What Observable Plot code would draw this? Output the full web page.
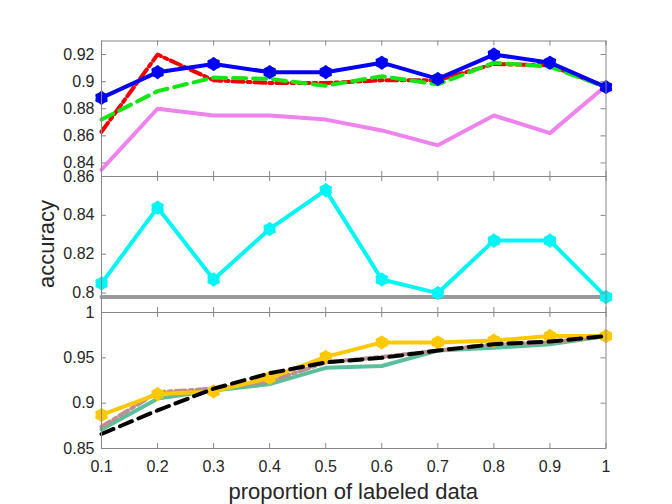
<!DOCTYPE html>
<html><head><meta charset="utf-8">
<script src="https://cdn.jsdelivr.net/npm/d3@7"></script>
<script src="https://cdn.jsdelivr.net/npm/@observablehq/plot@0.6"></script>
<style>
body{margin:0;background:#fff}
#chart{position:relative;width:672px;height:504px;overflow:hidden;background:#fff;font-family:"Liberation Sans",Arial,Helvetica,sans-serif}
#chart svg{position:absolute;left:0;top:0;overflow:visible}
.lab{position:absolute;color:#262626;font-size:22px;white-space:nowrap;line-height:1}
</style></head><body>
<div id="chart"></div>
<script>
// ---- data ----
const proportion = [0.1, 0.2, 0.3, 0.4, 0.5, 0.6, 0.7, 0.8, 0.9, 1.0];
const xTicks = [0.1, 0.2, 0.3, 0.4, 0.5, 0.6, 0.7, 0.8, 0.9, 1.0];

// top panel
const blueAcc   = [0.888, 0.907, 0.913, 0.907, 0.907, 0.914, 0.902, 0.920, 0.914, 0.896];
const redAcc    = [0.863, 0.920, 0.901, 0.899, 0.899, 0.901, 0.901, 0.913, 0.912, 0.896];
const greenAcc  = [0.872, 0.893, 0.903, 0.902, 0.897, 0.904, 0.898, 0.914, 0.911, 0.896];
const violetAcc = [0.835, 0.880, 0.875, 0.875, 0.872, 0.864, 0.853, 0.875, 0.862, 0.897];
const topTicks = [0.84, 0.86, 0.88, 0.9, 0.92];

// middle panel
const cyanAcc = [0.805, 0.844, 0.807, 0.833, 0.853, 0.807, 0.800, 0.827, 0.827, 0.798];
const grayAcc = [0.798, 0.798, 0.798, 0.798, 0.798, 0.798, 0.798, 0.798, 0.798, 0.798];
const midTicks = [0.8, 0.82, 0.84, 0.86];

// bottom panel
const yellowAcc = [0.887, 0.910, 0.913, 0.928, 0.951, 0.967, 0.967, 0.969, 0.974, 0.974];
const tealAcc   = [0.871, 0.905, 0.914, 0.921, 0.939, 0.941, 0.958, 0.961, 0.965, 0.974];
const blackAcc  = [0.866, 0.892, 0.916, 0.933, 0.945, 0.950, 0.958, 0.965, 0.968, 0.974];
const rosyAcc   = [0.874, 0.912, 0.916, 0.924, 0.945, 0.951, 0.958, 0.965, 0.967, 0.974];
const botTicks = [0.85, 0.9, 0.95, 1];

// ---- layout ----
const W = 672, H = 504, L = 101, R = 605.5;
const frameColor = "#868686", textColor = "#262626";
const fmt = d => String(+(+d).toFixed(3));
const rows = vals => proportion.map((x, i) => ({x, y: vals[i]}));

const hexagram = {
  draw(ctx, size) {
    const r = Math.sqrt(size / Math.PI), ri = r * 0.8;
    for (let i = 0; i < 12; i++) {
      const a = i * Math.PI / 6 - Math.PI / 2, rr = i % 2 ? ri : r;
      const px = rr * Math.cos(a), py = rr * Math.sin(a);
      i ? ctx.lineTo(px, py) : ctx.moveTo(px, py);
    }
    ctx.closePath();
  }
};

function lineMarks(vals, color, dash, withMarkers) {
  const data = rows(vals);
  const m = [Plot.line(data, {x: "x", y: "y", stroke: color, strokeWidth: 4, strokeDasharray: dash, strokeLinejoin: "round", clip: false})];
  if (withMarkers) m.push(Plot.dot(data, {x: "x", y: "y", symbol: hexagram, r: 6, fill: color, stroke: color, strokeWidth: 2, strokeLinejoin: "round"}));
  return m;
}

function panel({top, bottom, domain, yTicks, series, showX}) {
  const ph = bottom - top, pw = R - L;
  const marks = [
    ...series,
    Plot.frame({stroke: frameColor, strokeWidth: 1}),
    Plot.tickX(xTicks, {x: d => d, stroke: frameColor, insetTop: ph - 5}),
    Plot.tickX(xTicks, {x: d => d, stroke: frameColor, insetBottom: ph - 5}),
    Plot.tickY(yTicks, {y: d => d, stroke: frameColor, insetRight: pw - 5}),
    Plot.tickY(yTicks, {y: d => d, stroke: frameColor, insetLeft: pw - 5}),
    Plot.axisY(yTicks, {anchor: "left", tickSize: 0, tickPadding: 7, tickFormat: fmt, fontSize: 16, color: textColor, label: null})
  ];
  if (showX) marks.push(Plot.axisX(xTicks, {anchor: "bottom", tickSize: 0, tickPadding: 12, tickFormat: fmt, fontSize: 16, color: textColor, label: null}));
  else marks.push(Plot.axisX([], {label: null}));
  return Plot.plot({
    width: W, height: H,
    marginTop: top, marginBottom: H - bottom, marginLeft: L, marginRight: W - R,
    x: {domain: [0.1, 1]},
    y: {domain},
    style: {background: "transparent", overflow: "visible", fontFamily: "Liberation Sans, Arial, sans-serif"},
    marks
  });
}

const chart = document.getElementById("chart");

chart.append(panel({
  top: 40.5, bottom: 176, domain: [0.83, 0.93], yTicks: topTicks,
  series: [
    ...lineMarks(violetAcc, "#ee82ee", null, false),
    ...lineMarks(redAcc, "#f00000", "11,4,3,4", false),
    ...lineMarks(greenAcc, "#14e614", "13,7", false),
    ...lineMarks(blueAcc, "#0000f5", null, true)
  ]
}));

chart.append(panel({
  top: 176, bottom: 312, domain: [0.79, 0.86], yTicks: midTicks,
  series: [
    ...lineMarks(grayAcc, "#9a9a9a", null, false),
    ...lineMarks(cyanAcc, "#00f5f5", null, true)
  ]
}));

chart.append(panel({
  top: 312, bottom: 448, domain: [0.85, 1], yTicks: botTicks, showX: true,
  series: [
    ...lineMarks(tealAcc, "#5cbf9b", null, false),
    ...lineMarks(rosyAcc, "#bc8f8f", "10,4,3,4", false),
    ...lineMarks(yellowAcc, "#ffc800", null, true),
    ...lineMarks(blackAcc, "#000000", "13,7", false)
  ]
}));

const xl = document.createElement("div");
xl.className = "lab";
xl.textContent = "proportion of labeled data";
xl.style.left = ((L + R) / 2) + "px";
xl.style.top = "481px";
xl.style.transform = "translateX(-50%)";
chart.append(xl);

const yl = document.createElement("div");
yl.className = "lab";
yl.textContent = "accuracy";
yl.style.left = "47px";
yl.style.top = "244px";
yl.style.transform = "translate(-50%,-50%) rotate(-90deg)";
chart.append(yl);
</script>
</body></html>
